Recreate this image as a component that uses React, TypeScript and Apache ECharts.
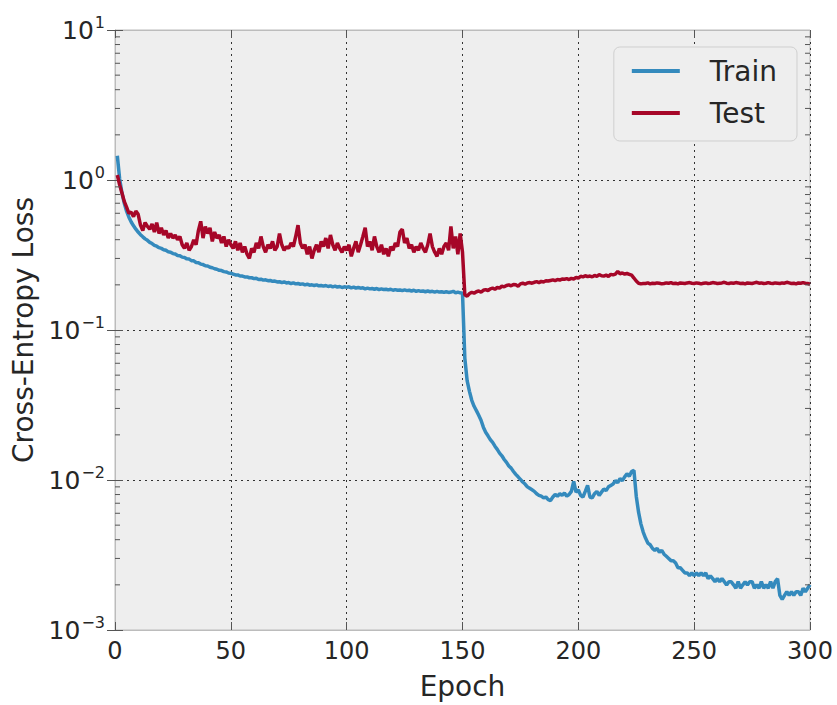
import React, { useEffect, useRef } from "react";
import * as echarts from "echarts";

// Cross-entropy loss per epoch (epochs 1..300)
const trainLoss: number[] = [
  1.45, 1.02, 0.82, 0.70, 0.62, 0.565, 0.525, 0.495, 0.47, 0.45,
  0.432, 0.418, 0.405, 0.396, 0.384, 0.377, 0.367, 0.362, 0.354, 0.35,
  0.343, 0.34, 0.332, 0.33, 0.323, 0.321, 0.314, 0.313, 0.306, 0.304,
  0.298, 0.297, 0.29, 0.289, 0.282, 0.281, 0.275, 0.273, 0.268, 0.267,
  0.262, 0.26, 0.256, 0.254, 0.25, 0.249, 0.245, 0.244, 0.24, 0.239,
  0.236, 0.233, 0.233, 0.229, 0.229, 0.226, 0.226, 0.223, 0.223, 0.22,
  0.221, 0.217, 0.218, 0.215, 0.216, 0.213, 0.214, 0.211, 0.212, 0.209,
  0.21, 0.207, 0.209, 0.206, 0.207, 0.204, 0.206, 0.203, 0.204, 0.202,
  0.203, 0.2, 0.202, 0.199, 0.2, 0.198, 0.2, 0.197, 0.198, 0.196,
  0.198, 0.195, 0.197, 0.194, 0.196, 0.193, 0.195, 0.192, 0.194, 0.193,
  0.194, 0.191, 0.193, 0.19, 0.192, 0.19, 0.191, 0.188, 0.19, 0.188,
  0.189, 0.187, 0.189, 0.186, 0.188, 0.186, 0.187, 0.185, 0.187, 0.184,
  0.186, 0.184, 0.185, 0.183, 0.185, 0.183, 0.184, 0.182, 0.184, 0.181,
  0.183, 0.181, 0.182, 0.18, 0.182, 0.18, 0.181, 0.179, 0.181, 0.179,
  0.18, 0.178, 0.18, 0.178, 0.179, 0.181, 0.177, 0.179, 0.177, 0.176,
  0.065, 0.046, 0.039, 0.034, 0.031, 0.029, 0.027, 0.025, 0.0225, 0.0208,
  0.0197, 0.0186, 0.0178, 0.0168, 0.016, 0.0151, 0.0145, 0.0137, 0.0131, 0.0124,
  0.012, 0.0114, 0.0109, 0.0105, 0.0101, 0.0097, 0.0094, 0.009, 0.0088, 0.0086,
  0.0084, 0.0081, 0.0079, 0.0078, 0.0076, 0.0077, 0.0074, 0.0073, 0.0077, 0.008,
  0.0078, 0.0081, 0.0079, 0.0082, 0.0078, 0.008, 0.0084, 0.0098, 0.0083, 0.0086,
  0.0079, 0.0077, 0.0084, 0.0092, 0.0077, 0.0076, 0.0081, 0.0084, 0.0079, 0.0083,
  0.0087, 0.0085, 0.009, 0.0092, 0.0094, 0.0099, 0.0096, 0.0102, 0.0099, 0.0105,
  0.011, 0.0106, 0.0114, 0.0116, 0.0078, 0.0061, 0.0051, 0.0045, 0.0041, 0.0038,
  0.0037, 0.0035, 0.0034, 0.0035, 0.0033, 0.0034, 0.0032, 0.0031, 0.003, 0.0029,
  0.0029, 0.0028, 0.0026, 0.0026, 0.0025, 0.0024, 0.0024, 0.0023, 0.0024, 0.0023,
  0.0024, 0.0023, 0.0024, 0.0023, 0.0024, 0.0022, 0.0023, 0.0022, 0.0021, 0.0022,
  0.0021, 0.0022, 0.0021, 0.002, 0.0021, 0.0021, 0.002, 0.0019, 0.0021, 0.0019,
  0.002, 0.0021, 0.002, 0.0021, 0.0021, 0.0019, 0.002, 0.0019, 0.0021, 0.0019,
  0.002, 0.0019, 0.0021, 0.0019, 0.0021, 0.0022, 0.0017, 0.0016, 0.0017, 0.0018,
  0.0017, 0.0018, 0.0017, 0.0018, 0.0018, 0.0017, 0.0019, 0.0018, 0.0019, 0.002,
];

const testLoss: number[] = [
  1.08, 0.93, 0.82, 0.72, 0.66, 0.6, 0.61, 0.57, 0.62, 0.59,
  0.5, 0.46, 0.52, 0.49, 0.47, 0.51, 0.45, 0.52, 0.44, 0.48,
  0.43, 0.46, 0.41, 0.44, 0.41, 0.43, 0.4, 0.42, 0.37, 0.35,
  0.38, 0.34, 0.36, 0.4, 0.37, 0.46, 0.53, 0.41, 0.49, 0.44,
  0.48, 0.39, 0.45, 0.41, 0.43, 0.38, 0.42, 0.36, 0.4, 0.37,
  0.35, 0.39, 0.34, 0.38, 0.33, 0.36, 0.32, 0.3, 0.35, 0.33,
  0.38, 0.35, 0.42, 0.36, 0.33, 0.37, 0.35, 0.39, 0.34, 0.36,
  0.44, 0.37, 0.34, 0.36, 0.35, 0.38, 0.36, 0.42, 0.5, 0.38,
  0.35, 0.37, 0.32, 0.36, 0.3, 0.34, 0.37, 0.33, 0.39, 0.36,
  0.41, 0.35, 0.43, 0.37, 0.34, 0.38, 0.35, 0.33, 0.36, 0.34,
  0.37, 0.31, 0.35, 0.39, 0.33, 0.37, 0.42, 0.48, 0.36, 0.39,
  0.34, 0.42, 0.36, 0.33, 0.37, 0.32, 0.35, 0.31, 0.36, 0.34,
  0.38, 0.36, 0.45, 0.47, 0.38, 0.41, 0.35, 0.37, 0.33, 0.36,
  0.34, 0.38, 0.35, 0.33, 0.37, 0.44, 0.36, 0.33, 0.31, 0.35,
  0.32, 0.36, 0.38, 0.34, 0.49, 0.35, 0.42, 0.32, 0.44, 0.33,
  0.172, 0.168, 0.175, 0.178, 0.176, 0.18, 0.182, 0.179, 0.184, 0.186,
  0.183, 0.188, 0.19, 0.187, 0.192, 0.19, 0.196, 0.194, 0.198, 0.2,
  0.197, 0.201, 0.2, 0.196, 0.203, 0.205, 0.202, 0.206, 0.207, 0.205,
  0.208, 0.21, 0.207, 0.211, 0.209, 0.213, 0.212, 0.214, 0.216, 0.213,
  0.217, 0.215, 0.219, 0.218, 0.22, 0.217, 0.221, 0.219, 0.224, 0.222,
  0.228, 0.226, 0.23, 0.227, 0.229, 0.226, 0.231, 0.228, 0.234, 0.23,
  0.229, 0.232, 0.228, 0.235, 0.233, 0.236, 0.246, 0.237, 0.24, 0.236,
  0.238, 0.235, 0.232, 0.222, 0.212, 0.205, 0.203, 0.204, 0.204, 0.206,
  0.203, 0.205, 0.204, 0.206, 0.205, 0.203, 0.204, 0.206, 0.205, 0.207,
  0.204, 0.205, 0.203, 0.206, 0.205, 0.204, 0.206, 0.207, 0.205, 0.204,
  0.206, 0.205, 0.203, 0.205, 0.206, 0.204, 0.205, 0.207, 0.206, 0.204,
  0.205, 0.206, 0.208, 0.205, 0.204, 0.206, 0.205, 0.207, 0.206, 0.204,
  0.205, 0.203, 0.206, 0.205, 0.204, 0.206, 0.208, 0.205, 0.206, 0.204,
  0.205, 0.207, 0.205, 0.204, 0.206, 0.205, 0.204, 0.206, 0.205, 0.208,
  0.206, 0.204, 0.205, 0.203, 0.206, 0.205, 0.207, 0.205, 0.204, 0.202,
];

const seriesNames = ["Train", "Test"];
const seriesColors = ["#348ABD", "#A60628"];
const xMin = 0;
const xMax = 300;
const xInterval = 50;
const yMin = 0.001;
const yMax = 10;
const minorMultipliers = [2, 3, 4, 5, 6, 7, 8, 9];
const decades = [0.001, 0.01, 0.1, 1];

const FONT = "'DejaVu Sans', 'Bitstream Vera Sans', sans-serif";
const TEXT_COLOR = "#262626";
const FRAME = "#bcbcbc";
const TICK = "#555555";

export default function App() {
  const ref = useRef<HTMLDivElement>(null);

  useEffect(() => {
    if (!ref.current) return;
    const chart = echarts.init(ref.current, undefined, { renderer: "svg" });

    const minorValues: number[][] = [];
    decades.forEach((d) => minorMultipliers.forEach((m) => minorValues.push([xMin, d * m])));

    const toPairs = (arr: number[]) => arr.map((v, i) => [i + 1, v]);

    const supText = (v: number) => {
      const e = Math.round(Math.log10(v));
      const s = e < 0 ? "\u2212" + String(-e) : String(e);
      return `{b|10}{s|${s}}`;
    };

    const option: any = {
      animation: false,
      backgroundColor: "#ffffff",
      textStyle: { fontFamily: FONT },
      grid: {
        left: 115,
        right: 27,
        top: 30,
        bottom: 75,
        show: true,
        backgroundColor: "#eeeeee",
        borderColor: FRAME,
        borderWidth: 1,
      },
      legend: {
        data: seriesNames,
        orient: "vertical",
        right: 40,
        top: 47,
        icon: "rect",
        itemWidth: 48,
        itemHeight: 4,
        itemGap: 14,
        padding: [10, 20, 14, 18],
        backgroundColor: "#eeeeee",
        borderColor: "#cfcfcf",
        borderWidth: 1,
        borderRadius: 6,
        textStyle: {
          fontSize: 28,
          fontFamily: FONT,
          color: TEXT_COLOR,
          lineHeight: 28,
          padding: [0, 0, 0, 25],
        },
      },
      xAxis: [
        {
          type: "value",
          min: xMin,
          max: xMax,
          interval: xInterval,
          position: "bottom",
          name: "Epoch",
          nameLocation: "middle",
          nameGap: 42,
          nameTextStyle: { fontSize: 28, color: TEXT_COLOR, fontFamily: FONT },
          axisLine: { show: true, lineStyle: { color: FRAME, width: 1 } },
          axisTick: { show: true, inside: true, length: 8, lineStyle: { color: TICK } },
          axisLabel: { fontSize: 24, margin: 9, color: TEXT_COLOR, fontFamily: FONT },
          splitLine: { show: true, lineStyle: { color: "#333333", type: [2, 4], width: 1 } },
        },
        {
          type: "value",
          min: xMin,
          max: xMax,
          interval: xInterval,
          position: "top",
          axisLine: { show: true, lineStyle: { color: FRAME, width: 1 } },
          axisTick: { show: true, inside: true, length: 8, lineStyle: { color: TICK } },
          axisLabel: { show: false },
          splitLine: { show: false },
        },
      ],
      yAxis: [
        {
          type: "log",
          logBase: 10,
          min: yMin,
          max: yMax,
          splitNumber: 4,
          position: "left",
          name: "Cross-Entropy Loss",
          nameLocation: "middle",
          nameGap: 70,
          nameTextStyle: { fontSize: 28, color: TEXT_COLOR, fontFamily: FONT },
          axisLine: { show: true, lineStyle: { color: FRAME, width: 1 } },
          axisTick: { show: true, inside: true, length: 8, lineStyle: { color: TICK } },
          axisLabel: {
            margin: 10,
            formatter: supText,
            rich: {
              b: { fontSize: 25, color: TEXT_COLOR, fontFamily: FONT },
              s: { fontSize: 16, color: TEXT_COLOR, fontFamily: FONT, padding: [0, 0, 16, 1] },
            },
          },
          splitLine: { show: true, lineStyle: { color: "#333333", type: [2, 4], width: 1 } },
        },
        {
          type: "log",
          logBase: 10,
          min: yMin,
          max: yMax,
          splitNumber: 4,
          position: "right",
          axisLine: { show: true, lineStyle: { color: FRAME, width: 1 } },
          axisTick: { show: true, inside: true, length: 8, lineStyle: { color: TICK } },
          axisLabel: { show: false },
          splitLine: { show: false },
        },
      ],
      series: [
        {
          type: "custom",
          name: "minorTicks",
          xAxisIndex: 0,
          yAxisIndex: 0,
          silent: true,
          z: 5,
          data: minorValues,
          renderItem: (_params: any, api: any) => {
            const v = api.value(1);
            const pl = api.coord([xMin, v]);
            const pr = api.coord([xMax, v]);
            return {
              type: "group",
              children: [
                { type: "line", shape: { x1: pl[0], y1: pl[1], x2: pl[0] + 5, y2: pl[1] }, style: { stroke: TICK, lineWidth: 1 } },
                { type: "line", shape: { x1: pr[0] - 5, y1: pr[1], x2: pr[0], y2: pr[1] }, style: { stroke: TICK, lineWidth: 1 } },
              ],
            };
          },
        },
        {
          name: seriesNames[0],
          type: "line",
          data: toPairs(trainLoss),
          showSymbol: false,
          symbol: "none",
          lineStyle: { color: seriesColors[0], width: 3.5 },
          itemStyle: { color: seriesColors[0] },
        },
        {
          name: seriesNames[1],
          type: "line",
          data: toPairs(testLoss),
          showSymbol: false,
          symbol: "none",
          lineStyle: { color: seriesColors[1], width: 3.5 },
          itemStyle: { color: seriesColors[1] },
        },
      ],
    };

    chart.setOption(option);
    return () => chart.dispose();
  }, []);

  return (
    <div
      ref={ref}
      style={{ position: "fixed", left: 0, top: 0, width: 837, height: 705 }}
    />
  );
}
